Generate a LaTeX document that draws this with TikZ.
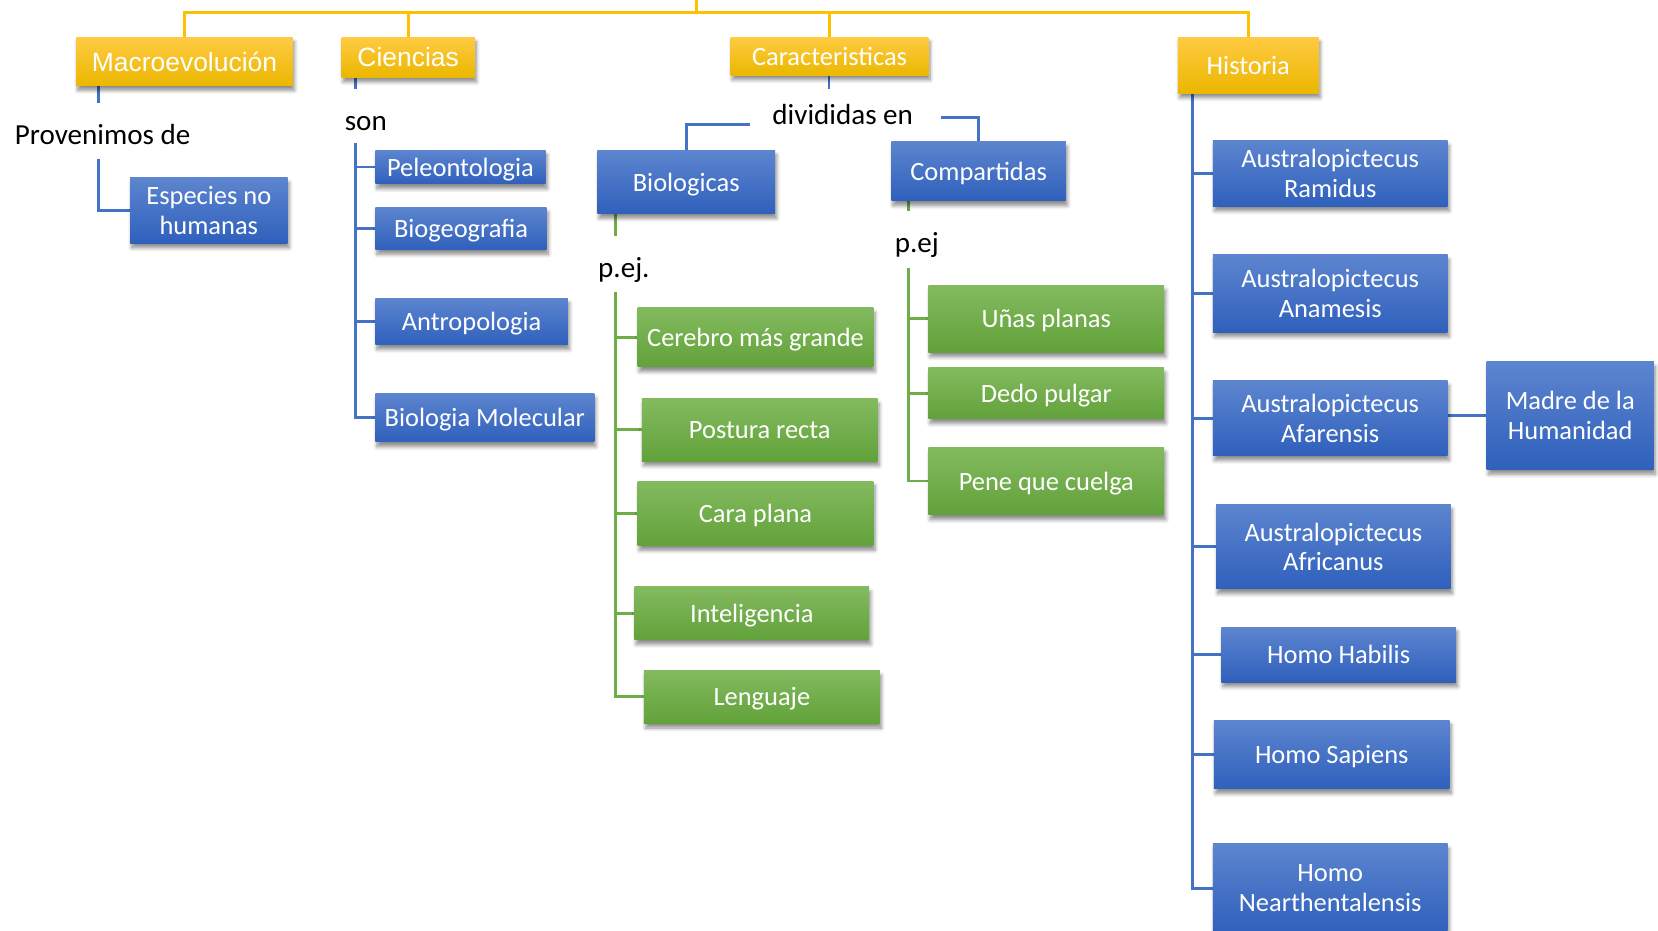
\documentclass[tikz,border=0pt]{standalone}
\usepackage{fontspec}
\setmainfont{Carlito}
\newfontfamily\arialf{Liberation Sans}
\usetikzlibrary{shadows,shadows.blur,backgrounds}
\definecolor{yT}{HTML}{FFCA42}
\definecolor{yM}{HTML}{FFC200}
\definecolor{yB}{HTML}{EBB700}
\definecolor{bT}{HTML}{5D85CF}
\definecolor{bM}{HTML}{4270C8}
\definecolor{bB}{HTML}{2F60BC}
\definecolor{gT}{HTML}{83BA5F}
\definecolor{gM}{HTML}{6EAD44}
\definecolor{gB}{HTML}{62A23A}
\definecolor{lineBlue}{HTML}{4472C4}
\definecolor{lineGreen}{HTML}{70AD47}
\definecolor{lineYellow}{HTML}{FFC000}
\tikzset{
  box/.style={draw=none, inner sep=0pt, align=center, text=white, text depth=0pt,
    font=\fontsize{25}{28}\selectfont,
    blur shadow={shadow xshift=1.5pt, shadow yshift=-4.5pt, shadow blur steps=6,
      shadow blur radius=3.5pt, shadow opacity=45}},
  ybox/.style={box, top color=yT, middle color=yM, bottom color=yB},
  bbox/.style={box, top color=bT, middle color=bM, bottom color=bB},
  gbox/.style={box, top color=gT, middle color=gM, bottom color=gB},
  arialtxt/.style={font=\arialf\fontsize{25}{28}\selectfont},
  lbl/.style={inner sep=0pt, anchor=base, text=black, font=\fontsize{27.5}{30}\selectfont},
  bl/.style={draw=lineBlue, line width=2.6pt},
  gr/.style={draw=lineGreen, line width=2.6pt},
  yl/.style={draw=lineYellow, line width=2.6pt},
}
\begin{document}
\begin{tikzpicture}[x=1pt,y=-1pt]
\useasboundingbox (0,0) rectangle (1568,880);
\clip (0,0) rectangle (1568,880);

% ---------- headers
\node[ybox, arialtxt, minimum width=205pt, minimum height=46pt] (macro) at (174.5,58) {Macroevolución};
\node[ybox, arialtxt, minimum width=126pt, minimum height=38pt] (cien) at (386,54) {Ciencias};
\node[ybox, minimum width=187pt, minimum height=36pt] (cara) at (784.5,53) {Caracteristicas};
\node[ybox, minimum width=133pt, minimum height=53pt] (hist) at (1180.5,61.5) {Historia};

% ---------- Macroevolucion branch
\node[lbl] (prov) at (97,136.5) {Provenimos de};
\node[bbox, minimum width=149pt, minimum height=62pt] (esp) at (197.5,199) {Especies no\\humanas};

% ---------- Ciencias branch
\node[lbl] (son) at (346,123) {son};
\node[bbox, minimum width=161pt, minimum height=32pt] (peleo) at (435.5,158) {Peleontologia};
\node[bbox, minimum width=162pt, minimum height=40pt] (biogeo) at (436,216) {Biogeografia};
\node[bbox, minimum width=182pt, minimum height=44pt] (antro) at (446,304) {Antropologia};
\node[bbox, minimum width=207pt, minimum height=46pt] (bmol) at (458.5,395) {Biologia Molecular};

% ---------- Caracteristicas branch
\node[lbl] (divi) at (797,117.5) {divididas en};
\node[bbox, minimum width=168pt, minimum height=60pt] (biol) at (649,172) {Biologicas};
\node[bbox, minimum width=165pt, minimum height=56pt] (comp) at (925.5,162) {Compartidas};
\node[lbl] (pej1) at (590,262) {p.ej.};
\node[lbl] (pej2) at (867,239) {p.ej};
\node[gbox, minimum width=223pt, minimum height=56pt] (cer) at (714.5,319) {Cerebro más grande};
\node[gbox, minimum width=223pt, minimum height=59pt] (post) at (718.5,406.5) {Postura recta};
\node[gbox, minimum width=223pt, minimum height=61pt] (carap) at (714.5,485.5) {Cara plana};
\node[gbox, minimum width=222pt, minimum height=50pt] (intel) at (711,580) {Inteligencia};
\node[gbox, minimum width=223pt, minimum height=50pt] (leng) at (720.5,659) {Lenguaje};
\node[gbox, minimum width=223pt, minimum height=63pt] (unas) at (989.5,301.5) {Uñas planas};
\node[gbox, minimum width=223pt, minimum height=48pt] (dedo) at (989.5,372) {Dedo pulgar};
\node[gbox, minimum width=223pt, minimum height=64pt] (pene) at (989.5,455) {Pene que cuelga};

% ---------- Historia branch
\node[bbox, minimum width=222pt, minimum height=62pt] (rami) at (1258,164) {Australopictecus\\Ramidus};
\node[bbox, minimum width=222pt, minimum height=73pt] (anam) at (1258,277.5) {Australopictecus\\Anamesis};
\node[bbox, minimum width=222pt, minimum height=71pt] (afar) at (1258,395.5) {Australopictecus\\Afarensis};
\node[bbox, minimum width=222pt, minimum height=80pt] (afri) at (1261,517) {Australopictecus\\Africanus};
\node[bbox, minimum width=222pt, minimum height=52pt] (habi) at (1266,619) {Homo Habilis};
\node[bbox, minimum width=223pt, minimum height=65pt] (sapi) at (1259.5,713.5) {Homo Sapiens};
\node[bbox, minimum width=222pt, minimum height=84pt] (nean) at (1258,840) {Homo\\Nearthentalensis};
\node[bbox, minimum width=158pt, minimum height=102pt] (madre) at (1485,393) {Madre de la\\Humanidad};

% ---------- connector end points
\coordinate (top) at (659,0);
\coordinate (bus) at (659,12);
\coordinate (m1) at (93,97);
\coordinate (m2) at (93,150);
\coordinate (c1) at (336,84);
\coordinate (c2) at (336,135);
\coordinate (k1) at (784,84);
\coordinate (d1) at (709,118);
\coordinate (d2) at (890,111);
\coordinate (b1) at (582,223);
\coordinate (b2) at (582,276);
\coordinate (p1) at (859,200);
\coordinate (p2) at (859,253);
\coordinate (h1) at (1128,88);

\begin{pgfonlayer}{background}
  % yellow bus
  \draw[yl] (top) -- (bus);
  \draw[yl] (macro.north) |- (bus) -| (hist.north);
  \draw[yl] (cien.north) |- (bus);
  \draw[yl] (cara.north) |- (bus);
  % Macroevolucion
  \draw[bl] (m1 |- macro.south) -- (m1);
  \draw[bl] (m2) |- (esp.west);
  % Ciencias
  \draw[bl] (c1 |- cien.south) -- (c1);
  \draw[bl] (c2) |- (bmol.west);
  \draw[bl] (c2 |- peleo.west) -- (peleo.west);
  \draw[bl] (c2 |- biogeo.west) -- (biogeo.west);
  \draw[bl] (c2 |- antro.west) -- (antro.west);
  % Caracteristicas
  \draw[bl] (k1 |- cara.south) -- (k1);
  \draw[bl] (d1) -| (biol.north);
  \draw[bl] (d2) -| (comp.north);
  % Biologicas
  \draw[gr] (b1 |- biol.south) -- (b1);
  \draw[gr] (b2) |- (leng.west);
  \draw[gr] (b2 |- cer.west) -- (cer.west);
  \draw[gr] (b2 |- post.west) -- (post.west);
  \draw[gr] (b2 |- carap.west) -- (carap.west);
  \draw[gr] (b2 |- intel.west) -- (intel.west);
  % Compartidas
  \draw[gr] (p1 |- comp.south) -- (p1);
  \draw[gr] (p2) |- (pene.west);
  \draw[gr] (p2 |- unas.west) -- (unas.west);
  \draw[gr] (p2 |- dedo.west) -- (dedo.west);
  % Historia
  \draw[bl] (h1) |- (nean.west);
  \draw[bl] (h1 |- rami.west) -- (rami.west);
  \draw[bl] (h1 |- anam.west) -- (anam.west);
  \draw[bl] (h1 |- afar.west) -- (afar.west);
  \draw[bl] (h1 |- afri.west) -- (afri.west);
  \draw[bl] (h1 |- habi.west) -- (habi.west);
  \draw[bl] (h1 |- sapi.west) -- (sapi.west);
  \draw[bl] (afar.east |- madre.west) -- (madre.west);
\end{pgfonlayer}
\end{tikzpicture}
\end{document}
